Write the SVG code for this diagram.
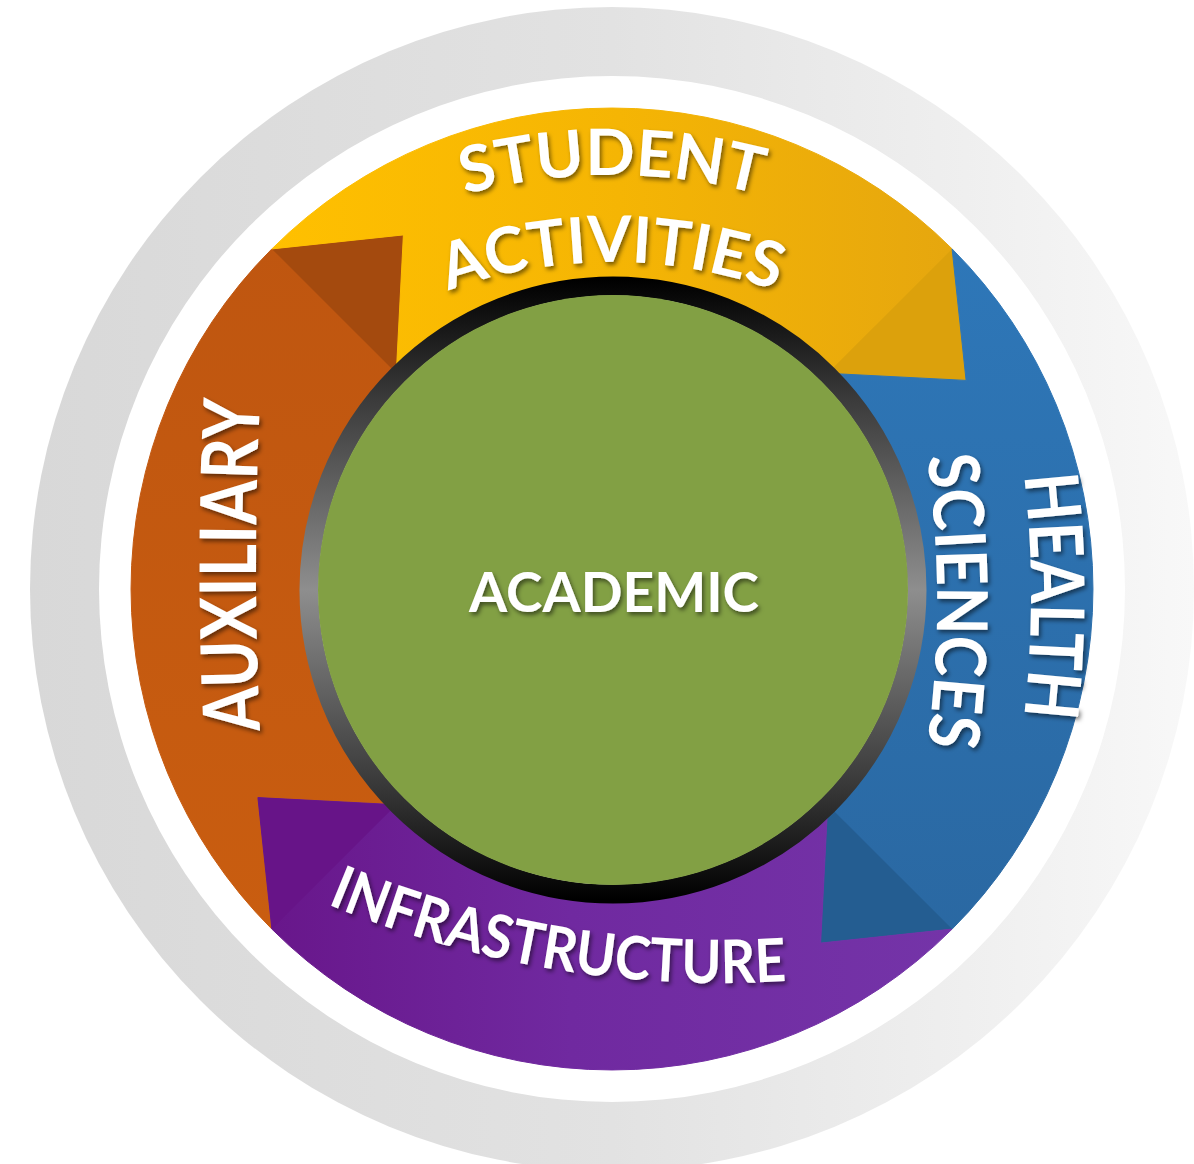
<svg xmlns="http://www.w3.org/2000/svg" width="1194" height="1164" viewBox="0 0 1194 1164">
<defs>
<style>
.lbl{font-family:Lato,"Open Sans","Liberation Sans",sans-serif;font-weight:700;fill:#ffffff;filter:url(#ts)}
.body{stroke-width:1}
</style>
<filter id="ts" filterUnits="userSpaceOnUse" x="0" y="0" width="1194" height="1164">
<feDropShadow dx="2" dy="3" stdDeviation="2" flood-color="#000" flood-opacity="0.5"/>
</filter>
<linearGradient id="greyRing" x1="0" y1="0" x2="1" y2="0">
<stop offset="0" stop-color="#d8d8d8"/><stop offset="0.5" stop-color="#e2e2e2"/><stop offset="0.85" stop-color="#f1f1f1"/><stop offset="1" stop-color="#f8f8f8"/>
</linearGradient>
<linearGradient id="ringGrad" gradientUnits="userSpaceOnUse" x1="0" y1="280" x2="0" y2="900">
<stop offset="0" stop-color="#000"/><stop offset="0.19" stop-color="#3a3a3a"/><stop offset="0.5" stop-color="#8e8e8e"/><stop offset="0.81" stop-color="#3a3a3a"/><stop offset="1" stop-color="#000"/>
</linearGradient>
<linearGradient id="gYel" gradientUnits="userSpaceOnUse" x1="270" y1="0" x2="970" y2="0">
<stop offset="0" stop-color="#ffc000"/><stop offset="0.5" stop-color="#f5b504"/><stop offset="1" stop-color="#e5a60f"/>
</linearGradient>
<linearGradient id="gOra" gradientUnits="userSpaceOnUse" x1="0" y1="240" x2="0" y2="930">
<stop offset="0" stop-color="#bf5610"/><stop offset="1" stop-color="#c95d10"/>
</linearGradient>
<linearGradient id="gBlu" gradientUnits="userSpaceOnUse" x1="0" y1="250" x2="0" y2="945">
<stop offset="0" stop-color="#2e77b8"/><stop offset="1" stop-color="#2a68a2"/>
</linearGradient>
<linearGradient id="gPur" gradientUnits="userSpaceOnUse" x1="260" y1="0" x2="950" y2="0">
<stop offset="0" stop-color="#68168a"/><stop offset="0.45" stop-color="#7029a0"/><stop offset="1" stop-color="#7434a8"/>
</linearGradient>
<path id="pStudent" d="M 47,740 A 565 565 0 0 1 1177,740"/>
<path id="pActivities" d="M 134,740 A 478 478 0 0 1 1090,740"/>
<path id="pAux" d="M 264,800 Q 248,565 264,330"/>
<path id="pHealth" d="M 1016,420 Q 1046,596 1016,772"/>
<path id="pSciences" d="M 918,400 Q 956,601 918,802"/>
<path id="pInfra" d="M 218.3,850.7 A 1021 1021 0 0 0 907,965.9"/>
</defs>

<g id="background">
<rect x="0" y="0" width="1194" height="1164" fill="#ffffff"/>
<circle cx="612" cy="589" r="582" fill="url(#greyRing)"/>
<circle cx="612" cy="589" r="513" fill="#ffffff"/>
</g>

<g id="connectors"></g>

<g id="node-auxiliary">
<path class="body" fill="url(#gOra)" stroke="url(#gOra)" d="M 271.9,929.1 A 481 481 0 0 1 271.9,248.9 L 403.4,234.9 L 396.3,373.3 A 305 305 0 0 0 396.3,804.7 L 257.9,797.6 Z"/>
<polygon fill="#a44a0e" points="271.9,248.9 403.4,234.9 396.3,373.3"/>
<text class="lbl" font-size="78"><textPath href="#pAux" startOffset="50%" text-anchor="middle" textLength="331" lengthAdjust="spacingAndGlyphs">AUXILIARY</textPath></text>
</g>

<g id="node-student-activities">
<path class="body" fill="url(#gYel)" stroke="url(#gYel)" d="M 271.9,248.9 A 481 481 0 0 1 952.1,248.9 L 966.1,380.4 L 827.7,373.3 A 305 305 0 0 0 396.3,373.3 L 403.4,234.9 Z"/>
<polygon fill="#dca10c" points="952.1,248.9 966.1,380.4 827.7,373.3"/>
<text class="lbl" font-size="64"><textPath href="#pStudent" startOffset="50%" text-anchor="middle" textLength="298" lengthAdjust="spacingAndGlyphs">STUDENT</textPath></text>
<text class="lbl" font-size="64"><textPath href="#pActivities" startOffset="50%" text-anchor="middle" textLength="334" lengthAdjust="spacingAndGlyphs">ACTIVITIES</textPath></text>
</g>

<g id="node-health-sciences">
<path class="body" fill="url(#gBlu)" stroke="url(#gBlu)" d="M 952.1,248.9 A 481 481 0 0 1 952.1,929.1 L 820.6,943.1 L 827.7,804.7 A 305 305 0 0 0 827.7,373.3 L 966.1,380.4 Z"/>
<polygon fill="#245d91" points="952.1,929.1 820.6,943.1 827.7,804.7"/>
<text class="lbl" font-size="74"><textPath href="#pHealth" startOffset="50%" text-anchor="middle" textLength="242" lengthAdjust="spacingAndGlyphs">HEALTH</textPath></text>
<text class="lbl" font-size="70"><textPath href="#pSciences" startOffset="50%" text-anchor="middle" textLength="290" lengthAdjust="spacingAndGlyphs">SCIENCES</textPath></text>
</g>

<g id="node-infrastructure">
<path class="body" fill="url(#gPur)" stroke="url(#gPur)" d="M 952.1,929.1 A 481 481 0 0 1 271.9,929.1 L 257.9,797.6 L 396.3,804.7 A 305 305 0 0 0 827.7,804.7 L 820.6,943.1 Z"/>
<polygon fill="#671488" points="271.9,929.1 257.9,797.6 396.3,804.7"/>
<text class="lbl" font-size="60"><textPath href="#pInfra" startOffset="50%" text-anchor="middle" textLength="470" lengthAdjust="spacingAndGlyphs">INFRASTRUCTURE</textPath></text>
</g>

<g id="node-academic">
<circle cx="613" cy="590" r="304" fill="none" stroke="url(#ringGrad)" stroke-width="19"/>
<circle cx="613" cy="590" r="295" fill="#82a044"/>
<text class="lbl" x="614" y="612" font-size="56" text-anchor="middle" textLength="290" lengthAdjust="spacingAndGlyphs">ACADEMIC</text>
</g>
</svg>
